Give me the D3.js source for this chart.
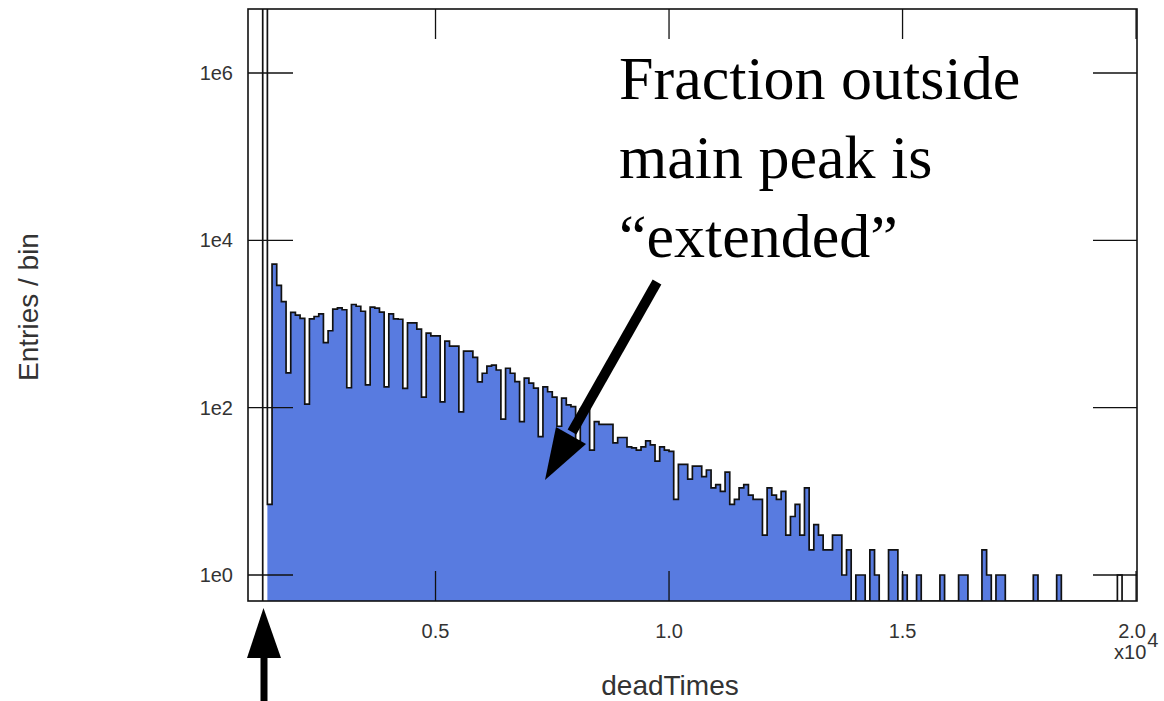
<!DOCTYPE html>
<html lang="en">
<head>
<meta charset="UTF-8">
<title>deadTimes</title>
<script src="https://d3js.org/d3.v7.min.js"></script>
<style>
  body { margin: 0; background: #fff; }
</style>
</head>
<body>
<script>
// bins are 100 wide, first bin starts at 1300
var binStart = 1300;
var binWidth = 100;
var counts = [
  8e6, 7, 5200, 2900, 1850, 260, 1380, 1280, 1170, 110,
  1150, 1230, 1320, 600, 830, 1510, 1560, 1480, 173, 1710,
  1630, 1420, 187, 1590, 1550, 1390, 177, 1320, 1150, 1140,
  170, 1030, 1030, 870, 134, 780, 720, 720, 117, 625,
  545, 545, 89, 475, 475, 400, 203, 258, 313, 322,
  282, 73, 296, 258, 205, 68, 225, 196, 171, 45,
  177, 155, 134, 60, 130, 108, 103, 40, 96, 96,
  31, 68, 63, 63, 63, 38, 44, 44, 34, 33,
  31, 34, 40, 36, 23, 34, 31, 30, 8, 21,
  21, 14, 20, 20, 15, 18, 11, 12, 10, 17,
  7, 8, 11, 12, 9, 8, 8, 3, 11, 9,
  8, 10, 3, 5, 7, 3, 11, 2, 4, 3,
  2, 2, 3, 3, 1, 2, 0, 1, 1, 0,
  2, 1, 0, 0, 2, 2, 0, 1, 0, 0,
  1, 0, 0, 0, 0, 1, 0, 0, 0, 1,
  1, 0, 0, 0, 2, 1, 0, 1, 1, 0,
  0, 0, 0, 0, 0, 1, 0, 0, 0, 0,
  1, 0, 0, 0, 0, 0, 0, 0, 0, 0,
  0, 0, 0, 1
];
// first and last bins are drawn empty (no fill) in the original
var emptyBins = [0, 183];

var xTickValues = [5000, 10000, 15000, 20000];
var xTickLabels = ["0.5", "1.0", "1.5", "2.0"];
var yTickValues = [1, 100, 10000, 1000000];
var yTickLabels = ["1e0", "1e2", "1e4", "1e6"];
var noteLines = ["Fraction outside", "main peak is", "\u201cextended\u201d"];

var w = 1164, h = 701;
var pLeft = 248, pRight = 1137, pTop = 9, pBottom = 601;
var sans = "Liberation Sans, Arial, sans-serif";

var x = d3.scaleLinear().domain([985, 20020]).range([pLeft, pRight]);
var y = d3.scaleLog().domain([1, 1e6]).range([575, 73]);

var svg = d3.select("body").append("svg").attr("width", w).attr("height", h);

svg.append("defs").append("clipPath").attr("id", "plotclip")
  .append("rect").attr("x", pLeft).attr("y", pTop)
  .attr("width", pRight - pLeft).attr("height", pBottom - pTop);

function yOf(c) { return c > 0 ? y(c) : pBottom; }

function stepPath(from, to) {
  var p = d3.path();
  p.moveTo(x(binStart + from * binWidth), pBottom);
  for (var i = from; i <= to; i++) {
    var x0 = x(binStart + i * binWidth), x1 = x(binStart + (i + 1) * binWidth);
    var yy = yOf(counts[i]);
    p.lineTo(x0, yy);
    p.lineTo(x1, yy);
  }
  p.lineTo(x(binStart + (to + 1) * binWidth), pBottom);
  return p.toString();
}

var plot = svg.append("g").attr("clip-path", "url(#plotclip)");

// blue fill (without the empty bins)
plot.append("path")
  .attr("d", stepPath(emptyBins[0] + 1, emptyBins[1] - 1))
  .attr("fill", "#587be0")
  .attr("stroke", "none");

// outline for every bin
plot.append("path")
  .attr("d", stepPath(0, counts.length - 1))
  .attr("fill", "none")
  .attr("stroke", "#111")
  .attr("stroke-width", 1.7);

// y ticks, both sides
yTickValues.forEach(function(v, i) {
  svg.append("line").attr("x1", pLeft).attr("x2", pLeft + 45)
    .attr("y1", y(v)).attr("y2", y(v)).attr("stroke", "#111").attr("stroke-width", 1.3);
  svg.append("line").attr("x1", pRight - 44).attr("x2", pRight)
    .attr("y1", y(v)).attr("y2", y(v)).attr("stroke", "#111").attr("stroke-width", 1.3);
  svg.append("text").text(yTickLabels[i])
    .attr("x", 233).attr("y", y(v) + 7)
    .attr("text-anchor", "end")
    .attr("font-family", sans)
    .attr("font-size", "20px").attr("fill", "#333");
});

// x ticks, bottom and top
xTickValues.forEach(function(v, i) {
  svg.append("line").attr("x1", x(v)).attr("x2", x(v))
    .attr("y1", pBottom).attr("y2", pBottom - 30).attr("stroke", "#111").attr("stroke-width", 1.3);
  svg.append("line").attr("x1", x(v)).attr("x2", x(v))
    .attr("y1", pTop).attr("y2", pTop + 30).attr("stroke", "#111").attr("stroke-width", 1.3);
  svg.append("text").text(xTickLabels[i])
    .attr("x", x(v) - (i === 3 ? 4 : 0)).attr("y", 638)
    .attr("text-anchor", "middle")
    .attr("font-family", sans)
    .attr("font-size", "20px").attr("fill", "#333");
});

// exponent under the last label
var ex = svg.append("text").attr("x", x(20000) - 22).attr("y", 659)
  .attr("font-family", sans)
  .attr("font-size", "20px").attr("fill", "#333");
ex.append("tspan").text("x10");
ex.append("tspan").text("4").attr("dx", 1).attr("dy", -12);

// frame
svg.append("rect").attr("x", pLeft).attr("y", pTop)
  .attr("width", pRight - pLeft).attr("height", pBottom - pTop)
  .attr("fill", "none").attr("stroke", "#111").attr("stroke-width", 1.6);

// axis titles
svg.append("text").text("deadTimes")
  .attr("x", 670).attr("y", 695)
  .attr("text-anchor", "middle")
  .attr("font-family", sans)
  .attr("font-size", "28px").attr("fill", "#333");

svg.append("text").text("Entries / bin")
  .attr("transform", "translate(38,307) rotate(-90)")
  .attr("text-anchor", "middle")
  .attr("font-family", sans)
  .attr("font-size", "28px").attr("fill", "#333");

// annotation
svg.selectAll("text.note")
  .data(noteLines)
  .enter()
  .append("text")
  .attr("class", "note")
  .text(function(d) { return d; })
  .attr("x", 619)
  .attr("y", function(d, i) { return 99 + i * 79; })
  .attr("font-family", "Liberation Serif, Times New Roman, serif")
  .attr("font-size", "62px")
  .attr("fill", "#000");

// diagonal arrow
svg.append("line").attr("x1", 657).attr("y1", 282).attr("x2", 572).attr("y2", 432)
  .attr("stroke", "#000").attr("stroke-width", 10);
svg.append("polygon").attr("points", "545,480 556,427 586,444").attr("fill", "#000");

// bottom arrow
svg.append("line").attr("x1", 264).attr("y1", 655).attr("x2", 264).attr("y2", 701)
  .attr("stroke", "#000").attr("stroke-width", 7);
svg.append("polygon").attr("points", "263.5,608 247,658 281,658").attr("fill", "#000");
</script>
</body>
</html>
